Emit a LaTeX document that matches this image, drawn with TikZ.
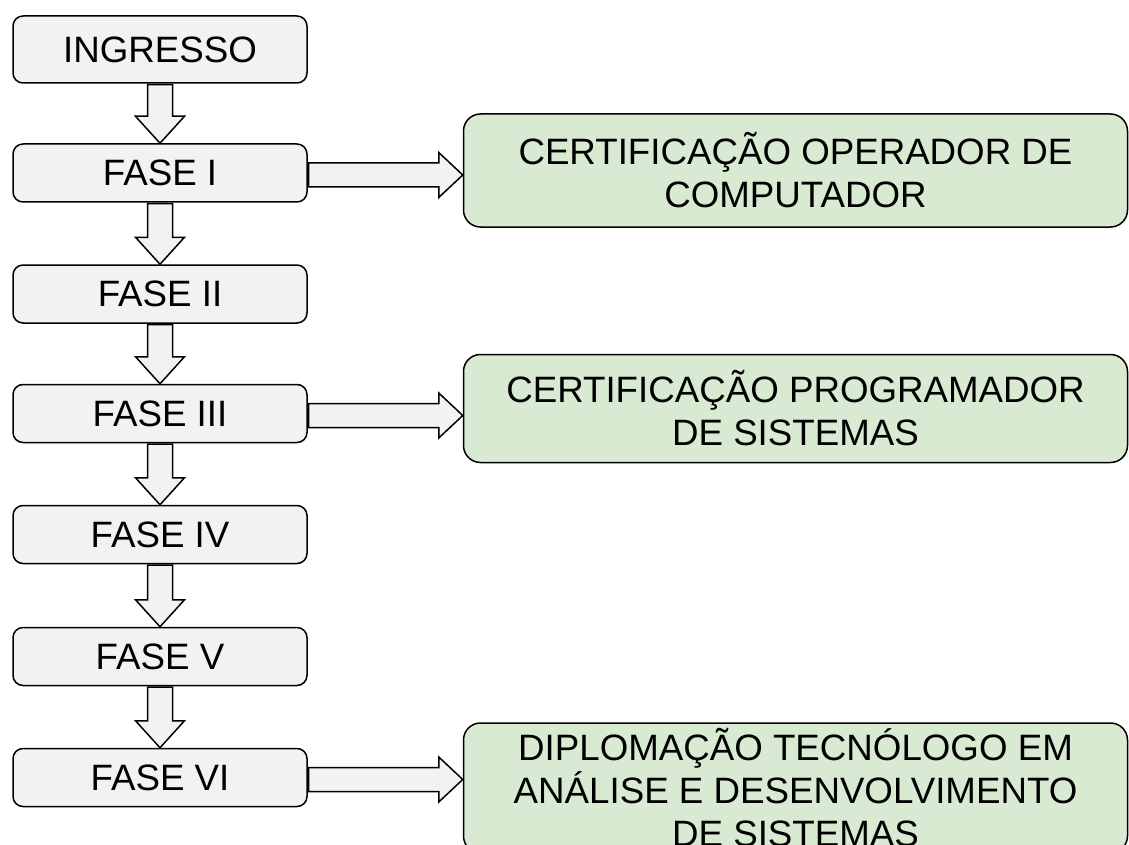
\documentclass[tikz,border=0pt]{standalone}
\usepackage{fontspec}
\setmainfont{Liberation Sans}
\usetikzlibrary{calc}
\definecolor{grayfill}{HTML}{F2F2F2}
\definecolor{greenfill}{HTML}{D9EAD3}
\tikzset{
  phasebox/.style={draw=black, line width=1.5pt, fill=grayfill, rounded corners=10pt,
    minimum width=294pt, minimum height=58pt, inner sep=0pt,
    font=\fontsize{36.7}{43}\selectfont},
  certbox/.style={draw=black, line width=1.5pt, fill=greenfill, rounded corners=17pt,
    minimum width=664pt, inner sep=0pt, align=center,
    font=\fontsize{36.7}{43}\selectfont},
  blk/.style={draw=black, line width=1.5pt, fill=grayfill, line join=miter}
}
\newcommand\vblockarrow[2]{%
  \draw[blk] let \p1=(#1.south), \p2=(#2.north) in
    (\x1-12.5pt,\y1-0.8pt) -- (\x1+12.5pt,\y1-0.8pt) -- (\x1+12.5pt,\y2+27pt)
    -- (\x1+24.5pt,\y2+27pt) -- (\x1,\y2) -- (\x1-24.5pt,\y2+27pt)
    -- (\x1-12.5pt,\y2+27pt) -- cycle;}
\newcommand\hblockarrow[2]{%
  \draw[blk] let \p1=(#1.east), \p2=(#2.west) in
    (\x1+0.8pt,\y1-2pt+12pt) -- (\x2-24pt,\y1-2pt+12pt) -- (\x2-24pt,\y1-2pt+22.5pt)
    -- (\x2,\y1-2pt) -- (\x2-24pt,\y1-2pt-22.5pt) -- (\x2-24pt,\y1-2pt-12pt)
    -- (\x1+0.8pt,\y1-2pt-12pt) -- cycle;}
\begin{document}
\begin{tikzpicture}[x=1pt,y=-1pt]
\useasboundingbox (0,0) rectangle (1129,845);
\clip (0,0) rectangle (1129,845);
\fill[white] (0,0) rectangle (1129,845);
\node[phasebox, minimum height=67pt] (ing) at (160,49.5) {INGRESSO};
\node[phasebox] (f1) at (160,173) {FASE I};
\node[phasebox] (f2) at (160,294) {FASE II};
\node[phasebox] (f3) at (160,413.5) {FASE III};
\node[phasebox] (f4) at (160,534.5) {FASE IV};
\node[phasebox] (f5) at (160,656.5) {FASE V};
\node[phasebox] (f6) at (160,777.5) {FASE VI};
\node[certbox, minimum height=113pt] (c1) at (795.5,170.5) {CERTIFICAÇÃO OPERADOR DE\\COMPUTADOR};
\node[certbox, minimum height=108pt] (c2) at (795.5,408.5) {CERTIFICAÇÃO PROGRAMADOR\\DE SISTEMAS};
\node[certbox, minimum height=130pt] (c3) at (795.5,788) {DIPLOMAÇÃO TECNÓLOGO EM\\ANÁLISE E DESENVOLVIMENTO\\DE SISTEMAS};
\vblockarrow{ing}{f1}
\vblockarrow{f1}{f2}
\vblockarrow{f2}{f3}
\vblockarrow{f3}{f4}
\vblockarrow{f4}{f5}
\vblockarrow{f5}{f6}
\hblockarrow{f1}{c1}
\hblockarrow{f3}{c2}
\hblockarrow{f6}{c3}
\end{tikzpicture}
\end{document}
